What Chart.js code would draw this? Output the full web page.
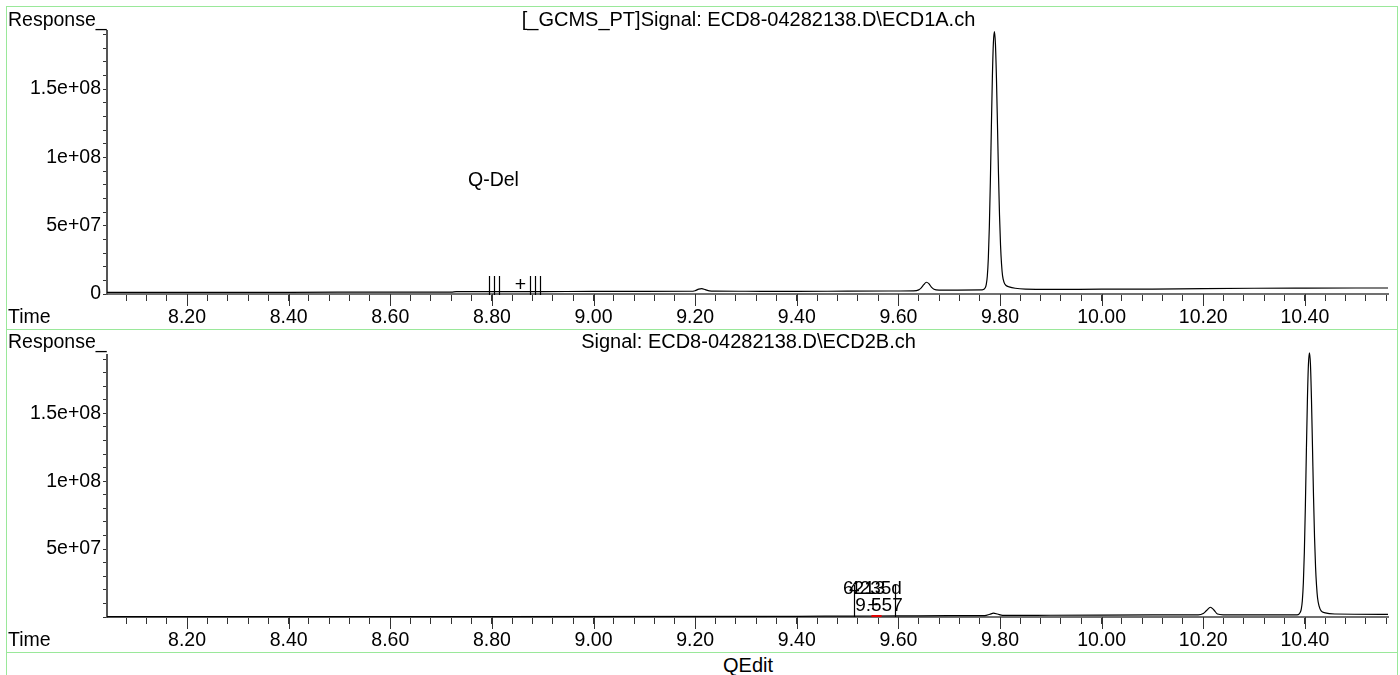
<!DOCTYPE html>
<html>
<head>
<meta charset="utf-8">
<script src="https://cdn.jsdelivr.net/npm/chart.js@4.4.0/dist/chart.umd.min.js"></script>
<style>
 html, body { margin: 0; padding: 0; background: #fff; width: 1400px; height: 675px; overflow: hidden; }
 .frame { position: absolute; left: 6px; width: 1392px; border: 1px solid #9ae89a; box-sizing: border-box; }
 canvas { position: absolute; left: 6px; }
 #qedit { position: absolute; left: 648px; top: 653px; width: 200px; text-align: center;
          font: 20px "Liberation Sans", Arial, sans-serif; line-height: 24px; color: #000; }
</style>
</head>
<body>
<div class="frame" style="top:6px;height:324px"></div>
<div class="frame" style="top:329px;height:324px"></div>
<div class="frame" style="top:652px;height:60px"></div>
<canvas id="c1" width="1392" height="323" style="top:6px"></canvas>
<canvas id="c2" width="1392" height="323" style="top:329px"></canvas>
<div id="qedit">QEdit</div>

<script>
 // time axis (min)
 var xMin = 8.0425, xMax = 10.5636;

 // response axis ticks (minor every 1e7, labelled every 5e7)
 var yTicks = [0, 1e7, 2e7, 3e7, 4e7, 5e7, 6e7, 7e7, 8e7, 9e7, 1e8,
               1.1e8, 1.2e8, 1.3e8, 1.4e8, 1.5e8, 1.6e8, 1.7e8, 1.8e8, 1.9e8];

 // ECD1A trace
 var topTime = [8.0425, 8.30, 8.50, 8.72, 8.73, 8.90, 9.00, 9.10, 9.19, 9.20, 9.207, 9.213, 9.22, 9.228, 9.24,
                9.30, 9.40, 9.50, 9.60, 9.63, 9.64, 9.645, 9.65, 9.655, 9.66, 9.665, 9.67, 9.68, 9.70, 9.765,
                9.771, 9.773, 9.775, 9.777, 9.779, 9.781, 9.783, 9.785, 9.787, 9.789, 9.791, 9.793, 9.795,
                9.797, 9.799, 9.801, 9.803, 9.805, 9.808, 9.812, 9.818, 9.83, 9.85, 9.90, 10.00, 10.10,
                10.20, 10.30, 10.40, 10.50, 10.5636];
 var topResp = [1.2e6, 1.2e6, 1.3e6, 1.4e6, 1.7e6, 1.8e6, 1.9e6, 1.9e6, 2.0e6, 2.4e6, 3.6e6, 4.0e6, 3.2e6, 2.3e6, 2.1e6,
                2.0e6, 1.9e6, 2.1e6, 2.2e6, 2.3e6, 3.0e6, 4.5e6, 6.8e6, 8.6e6, 7.6e6, 5.0e6, 3.5e6, 2.9e6, 2.9e6, 3.0e6,
                4.5e6, 7e6, 1.3e7, 2.6e7, 4.9e7, 8.2e7, 1.22e8, 1.59e8, 1.84e8, 1.92e8, 1.83e8, 1.58e8, 1.24e8,
                8.8e7, 5.8e7, 3.6e7, 2.2e7, 1.35e7, 8.5e6, 6.2e6, 5.2e6, 4.2e6, 3.6e6, 3.4e6, 3.5e6, 3.6e6,
                4.0e6, 4.2e6, 4.3e6, 4.4e6, 4.4e6];

 // ECD2B trace
 var botTime = [8.0425, 8.80, 9.40, 9.50, 9.60, 9.70, 9.77, 9.78, 9.787, 9.795, 9.805, 9.90, 10.00, 10.10,
                10.19, 10.20, 10.207, 10.214, 10.221, 10.228, 10.24, 10.30, 10.385, 10.391, 10.393, 10.395,
                10.397, 10.399, 10.401, 10.403, 10.405, 10.407, 10.409, 10.411, 10.413, 10.415, 10.417, 10.419,
                10.421, 10.423, 10.425, 10.428, 10.432, 10.44, 10.46, 10.5636];
 var botResp = [0.3e6, 0.3e6, 0.5e6, 0.7e6, 0.8e6, 1.0e6, 1.0e6, 2.0e6, 2.8e6, 2.2e6, 1.2e6, 1.3e6, 1.4e6, 1.5e6,
                1.5e6, 2.5e6, 5.0e6, 7.2e6, 5.2e6, 2.2e6, 1.6e6, 1.5e6, 1.6e6, 3.5e6, 6e6, 1.2e7,
                2.5e7, 4.8e7, 8.2e7, 1.23e8, 1.6e8, 1.86e8, 1.945e8, 1.86e8, 1.6e8, 1.25e8, 8.9e7, 5.9e7,
                3.7e7, 2.3e7, 1.4e7, 8e6, 4.5e6, 3.0e6, 2.2e6, 2.0e6];

 var FONT = '"Liberation Sans", Arial, sans-serif';

 function near(v, step) { return Math.abs(v / step - Math.round(v / step)) < 1e-6; }
 function sci(v) {
   if (v === 0) return '0';
   var p = v.toExponential().split('e');
   var sign = p[1].charAt(0), exp = p[1].slice(1);
   return p[0] + 'e' + sign + (exp.length < 2 ? '0' + exp : exp);
 }

 function decor(title, headY, extra) {
   return {
     id: 'decor',
     afterDraw: function (chart) {
       var ctx = chart.ctx, xs = chart.scales.x, ys = chart.scales.y, a = chart.chartArea;
       ctx.save();
       // longer major ticks on the time axis
       ctx.strokeStyle = '#333';
       ctx.lineWidth = 1;
       xs.ticks.forEach(function (t) {
         if (!near(t.value, 0.2)) return;
         var px = Math.round(xs.getPixelForValue(t.value)) + 0.5;
         ctx.beginPath(); ctx.moveTo(px, a.bottom); ctx.lineTo(px, a.bottom + 12); ctx.stroke();
       });
       ctx.fillStyle = '#000';
       ctx.font = '19.5px ' + FONT;
       ctx.textAlign = 'left';
       ctx.textBaseline = 'alphabetic';
       ctx.fillText('Response_', 2, headY);
       ctx.textBaseline = 'middle';
       ctx.fillText('Time', 2, a.bottom + 24);
       ctx.font = '20px ' + FONT;
       ctx.textAlign = 'center';
       ctx.textBaseline = 'alphabetic';
       ctx.fillText(title, 742.5, headY);
       if (extra) extra(ctx, xs, ys);
       ctx.restore();
     }
   };
 }

 function makeChart(id, times, resp, yMax, showZero, plugin) {
   return new Chart(document.getElementById(id), {
     type: 'line',
     data: {
       datasets: [{
         data: times.map(function (t, i) { return { x: t, y: resp[i] }; }),
         borderColor: '#000',
         borderWidth: 1.2,
         pointRadius: 0,
         fill: false,
         cubicInterpolationMode: 'monotone',
         clip: 3
       }]
     },
     options: {
       responsive: false,
       animation: false,
       layout: { padding: { top: id === 'c1' ? 25 : 26, right: 10, left: 0, bottom: 0 } },
       plugins: { legend: { display: false }, tooltip: { enabled: false } },
       scales: {
         x: {
           type: 'linear', min: xMin, max: xMax,
           grid: { drawOnChartArea: false, tickLength: 7, tickColor: '#333', tickWidth: 1 },
           border: { color: '#707070', width: 2 },
           ticks: {
             stepSize: 0.04, includeBounds: false, autoSkip: false, maxRotation: 0, padding: 5,
             color: '#000', font: { family: FONT, size: 19.5 },
             callback: function (v) { return near(v, 0.2) ? v.toFixed(2) : ''; }
           },
           afterFit: function (s) { s.height = 35; }
         },
         y: {
           min: 0, max: yMax,
           grid: { drawOnChartArea: false, tickLength: 4, tickColor: '#333', tickWidth: 1 },
           border: { color: '#555', width: 2 },
           afterBuildTicks: function (s) {
             s.ticks = yTicks.map(function (v) { return { value: v }; });
           },
           ticks: {
             autoSkip: false, padding: 2,
             color: '#000', font: { family: FONT, size: 19.5 },
             callback: function (v) {
               if (!near(v, 5e7)) return '';
               if (v === 0 && !showZero) return '';
               return sci(v);
             }
           },
           afterFit: function (s) { s.width = 101; }
         }
       }
     },
     plugins: [plugin]
   });
 }

 makeChart('c1', topTime, topResp, 1.925e8, true,
   decor('[_GCMS_PT]Signal: ECD8-04282138.D\\ECD1A.ch', 20, function (ctx, xs, ys) {
     var y0 = ys.getPixelForValue(0);
     ctx.font = '19.5px ' + FONT;
     ctx.textAlign = 'left';
     ctx.fillText('Q-Del', xs.getPixelForValue(8.753), ys.getPixelForValue(7.9e7));
     ctx.strokeStyle = '#000';
     ctx.lineWidth = 1.2;
     [8.794, 8.804, 8.814, 8.875, 8.885, 8.895].forEach(function (t) {
       var px = Math.round(xs.getPixelForValue(t)) + 0.5;
       ctx.beginPath(); ctx.moveTo(px, y0 + 1); ctx.lineTo(px, y0 - 18); ctx.stroke();
     });
     ctx.textAlign = 'center';
     ctx.textBaseline = 'middle';
     ctx.fillText('+', xs.getPixelForValue(8.856), y0 - 8);
   }));

 makeChart('c2', botTime, botResp, 1.93e8, false,
   decor('Signal: ECD8-04282138.D\\ECD2B.ch', 19, function (ctx, xs, ys) {
     var y0 = ys.getPixelForValue(0);
     ctx.strokeStyle = '#000';
     ctx.lineWidth = 1.2;
     [9.513, 9.594].forEach(function (t) {
       var px = Math.round(xs.getPixelForValue(t)) + 0.5;
       ctx.beginPath(); ctx.moveTo(px, y0); ctx.lineTo(px, y0 - 32); ctx.stroke();
     });
     ctx.strokeStyle = '#e00000';
     ctx.lineWidth = 2;
     ctx.beginPath(); ctx.moveTo(xs.getPixelForValue(9.547), y0 - 1); ctx.lineTo(xs.getPixelForValue(9.567), y0 - 1); ctx.stroke();
     ctx.font = '19px ' + FONT;
     ctx.textAlign = 'left';
     ctx.textBaseline = 'alphabetic';
     ctx.fillText('6213', xs.getPixelForValue(9.491), y0 - 23);
     ctx.fillText('4235d', xs.getPixelForValue(9.503), y0 - 23);
     ctx.fillText('9.557', xs.getPixelForValue(9.515), y0 - 6);
     ctx.textAlign = 'center';
     ctx.fillText('+', xs.getPixelForValue(9.550), y0 - 6);
   }));
</script>
</body>
</html>
